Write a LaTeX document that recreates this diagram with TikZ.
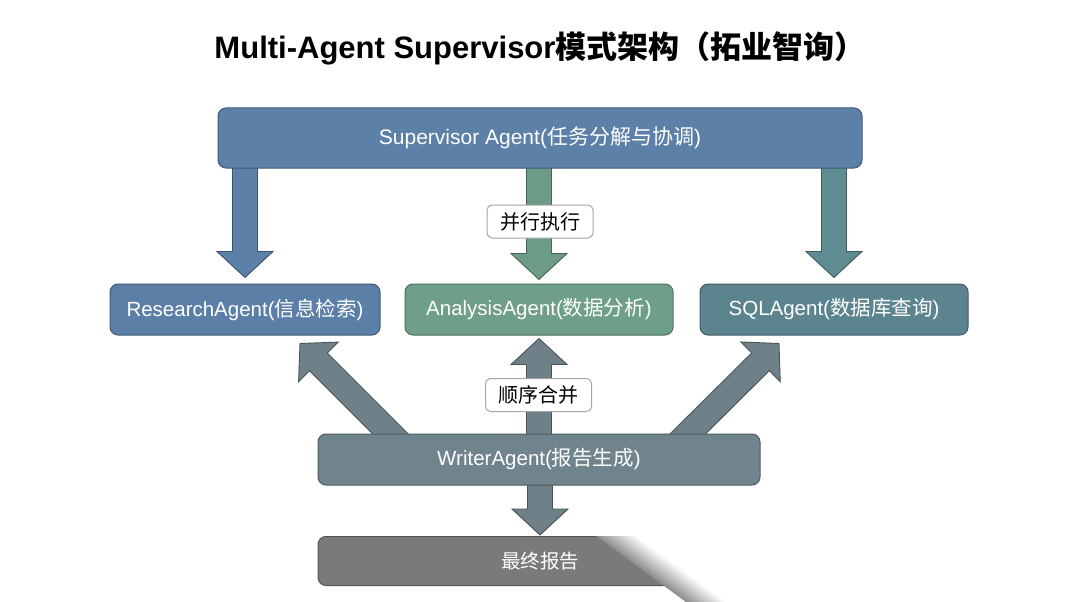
\documentclass[tikz,border=0pt]{standalone}
\usepackage{fontspec}
\setmainfont{Liberation Sans}
\newfontfamily\cjk{Noto Sans CJK SC}
\usetikzlibrary{calc,backgrounds}

\definecolor{supblue}{HTML}{5C80A8}
\definecolor{resblue}{HTML}{5B7FA7}
\definecolor{anagreen}{HTML}{6F9F88}
\definecolor{sqlteal}{HTML}{5C848E}
\definecolor{wrislate}{HTML}{6F848C}
\definecolor{fingray}{HTML}{7A7A7A}
\definecolor{arrgreen}{HTML}{6C9C85}
\definecolor{arrteal}{HTML}{5F8C90}
\definecolor{arrslate}{HTML}{6E8188}

% fat block arrow: start, tip, colour
\newcommand{\fatarrow}[3]{%
  \path #1 coordinate (fa-s);
  \path #2 coordinate (fa-t);
  \coordinate (fa-h) at ($(fa-t)!26pt!(fa-s)$);
  \draw[fat=#3] ($(fa-s)!12.5pt!90:(fa-t)$) -- ($(fa-h)!12.5pt!-90:(fa-s)$)
    -- ($(fa-h)!28pt!-90:(fa-s)$) -- (fa-t) -- ($(fa-h)!28pt!90:(fa-s)$)
    -- ($(fa-h)!12.5pt!90:(fa-s)$) -- ($(fa-s)!12.5pt!-90:(fa-t)$) -- cycle;}

\begin{document}
\begin{tikzpicture}[x=1pt, y=-1pt,
    agent/.style={draw=#1!70!black, fill=#1, rounded corners=8pt, line width=1pt,
      text=white, minimum height=51pt, inner sep=0pt,
      font=\fontsize{20.5}{24}\selectfont},
    tag/.style={draw=gray!70, fill=white, rounded corners=5pt, line width=1pt,
      minimum width=106pt, minimum height=33pt, inner sep=0pt,
      font=\cjk\fontsize{20}{24}\selectfont},
    fat/.style={fill=#1, draw=#1!65!black, line width=0.9pt, line join=miter}]
    \useasboundingbox (0,0) rectangle (1080,602);

    \node (title) at (540,48) {\bfseries\fontsize{31}{36}\selectfont Multi-Agent Supervisor{\cjk 模式架构（拓业智询）}};

    % agents
    \node[agent=supblue, minimum width=644pt, minimum height=60pt,
      font=\fontsize{21}{25}\selectfont] (sup) at (540,138) {Supervisor Agent({\cjk 任务分解与协调})};
    \node[agent=resblue, minimum width=270pt] (res) at (245,309.5) {ResearchAgent({\cjk 信息检索})};
    \node[agent=anagreen, minimum width=268pt] (ana) at (539,309.5) {AnalysisAgent({\cjk 数据分析})};
    \node[agent=sqlteal, minimum width=268pt] (sql) at (834,309.5) {SQLAgent({\cjk 数据库查询})};
    \node[agent=wrislate, minimum width=442pt] (wri) at (539,459.5) {WriterAgent({\cjk 报告生成})};
    \node[agent=fingray, minimum width=444pt, minimum height=49pt,
      font=\cjk\fontsize{19.5}{24}\selectfont] (fin) at (540,561) {最终报告};

    % block arrows behind the boxes
    \begin{pgfonlayer}{background}
      \fill[white] (0,0) rectangle (1080,602);
      \fatarrow{(res.north |- sup.center)}{([yshift=6pt]res.north)}{supblue}
      \fatarrow{(ana.north |- sup.center)}{([yshift=4pt]ana.north)}{arrgreen}
      \fatarrow{(sql.north |- sup.center)}{([yshift=6pt]sql.north)}{arrteal}
      \fatarrow{($(wri.center)+(-123,0)$)}{($(res.south)+(55,8)$)}{arrslate}
      \fatarrow{(wri.center)}{([yshift=-3pt]ana.south)}{arrslate}
      \fatarrow{($(wri.center)+(123,0)$)}{($(sql.south)+(-55,8)$)}{arrslate}
      \fatarrow{(fin.north |- wri.center)}{([yshift=1pt]fin.north)}{arrslate}
    \end{pgfonlayer}

    \node[tag] (par) at (540,221.5) {并行执行};
    \node[tag] (seq) at (538.5,395) {顺序合并};

    % fade over the final box
    \fill[white] (596,534) -- (800,534) -- (800,602) -- (686,602) -- cycle;
    \foreach \i in {0,...,11} {
      \pgfmathsetmacro\shadeval{85-7*\i}
      \fill[fingray!\shadeval!white] (596+3.2*\i,536) -- (599.4+3.2*\i,536)
        -- (689.4+3.2*\i,602) -- (686+3.2*\i,602) -- cycle;
    }
\end{tikzpicture}
\end{document}
